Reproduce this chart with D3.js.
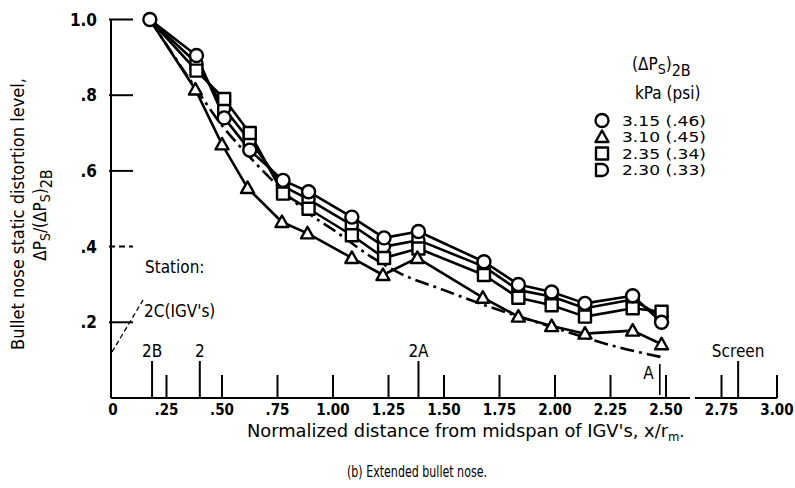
<!DOCTYPE html>
<html>
<head>
<meta charset="utf-8">
<script src="https://cdn.jsdelivr.net/npm/d3@7"></script>
<style>
  body { margin: 0; background: #fff; }
  svg text { font-family: "DejaVu Sans Condensed", "DejaVu Sans", sans-serif; font-stretch: condensed; fill: #000; }
</style>
</head>
<body>
<div id="chart_wrapper"></div>
<script>
// station positions along x/r_m
var xPts = [0.175, 0.385, 0.51, 0.625, 0.775, 0.89, 1.085, 1.23, 1.385, 1.68, 1.835, 1.985, 2.135, 2.35, 2.48];
var xTri = [0.175, 0.38, 0.50, 0.615, 0.77, 0.885, 1.085, 1.225, 1.38, 1.675, 1.835, 1.985, 2.135, 2.35, 2.48];

var circleVals = [1.0, 0.905, 0.74, 0.655, 0.575, 0.545, 0.478, 0.423, 0.44, 0.36, 0.30, 0.28, 0.25, 0.27, 0.20];
var triVals    = [1.0, 0.815, 0.67, 0.555, 0.465, 0.435, 0.37, 0.325, 0.37, 0.265, 0.215, 0.19, 0.17, 0.178, 0.142];
var squareVals = [1.0, 0.865, 0.79, 0.70, 0.54, 0.50, 0.43, 0.37, 0.395, 0.325, 0.265, 0.245, 0.215, 0.237, 0.228];
var dVals      = [1.0, 0.885, 0.765, 0.68, 0.56, 0.525, 0.457, 0.40, 0.417, 0.347, 0.285, 0.268, 0.237, 0.26, 0.215];

// dash-dot reference curve
var refX = [0.175, 0.38, 0.5, 0.62, 0.77, 0.885, 1.0, 1.18, 1.3, 1.5, 1.68, 1.84, 2.0, 2.28, 2.48];
var refY = [1.0, 0.82, 0.72, 0.64, 0.55, 0.49, 0.445, 0.37, 0.33, 0.285, 0.246, 0.215, 0.185, 0.135, 0.108];

var legendLabels = ["3.15 (.46)", "3.10 (.45)", "2.35 (.34)", "2.30 (.33)"];
var xTicks = [0.25, 0.5, 0.75, 1.0, 1.25, 1.5, 1.75, 2.0, 2.25, 2.5, 2.75, 3.0];
var xTickLabels = ["0", ".25", ".50", ".75", "1.00", "1.25", "1.50", "1.75", "2.00", "2.25", "2.50", "2.75", "3.00"];
var yTicks = [0.2, 0.4, 0.6, 0.8, 1.0];
var yTickLabels = [".2", ".4", ".6", ".8", "1.0"];

var stations = [
  {name: "2B", x: 0.185},
  {name: "2", x: 0.40},
  {name: "2A", x: 1.385},
  {name: "Screen", x: 2.825}
];

var wrapperWidth = 795, wrapperHeight = 488;
var svg = d3.select("#chart_wrapper").append("svg")
    .attr("width", wrapperWidth).attr("height", wrapperHeight);

var x = d3.scaleLinear().domain([0, 3]).range([111, 777]);
var y = d3.scaleLinear().domain([0, 1]).range([398, 19.5]);

var ink = "#000";

// axes
svg.append("line").attr("x1", x(0)).attr("x2", x(0)).attr("y1", y(1)).attr("y2", y(0))
    .attr("stroke", ink).attr("stroke-width", 2);
svg.append("line").attr("x1", x(0)).attr("x2", x(2.608)).attr("y1", y(0)).attr("y2", y(0))
    .attr("stroke", ink).attr("stroke-width", 2);
svg.append("line").attr("x1", x(2.63)).attr("x2", x(3.0)).attr("y1", y(0)).attr("y2", y(0))
    .attr("stroke", ink).attr("stroke-width", 2);

// y ticks (inward)
svg.selectAll(".ytick").data(yTicks).enter().append("line")
    .attr("x1", x(0) - 2).attr("x2", x(0) + 22)
    .attr("y1", function(d) { return y(d); }).attr("y2", function(d) { return y(d); })
    .attr("stroke", ink).attr("stroke-width", 2)
    .attr("stroke-dasharray", function(d) { return d == 0.4 ? "6,4" : null; });

svg.selectAll(".ylab").data(yTicks).enter().append("text")
    .attr("x", 97).attr("y", function(d) { return y(d) + 6; })
    .attr("text-anchor", "end").attr("font-size", 17).attr("font-weight", "bold")
    .text(function(d, i) { return yTickLabels[i]; });

// x ticks (inward)
svg.selectAll(".xtick").data(xTicks).enter().append("line")
    .attr("x1", function(d) { return x(d); }).attr("x2", function(d) { return x(d); })
    .attr("y1", y(0) - 23).attr("y2", y(0))
    .attr("stroke", ink).attr("stroke-width", 2);

svg.selectAll(".xlab").data([0].concat(xTicks)).enter().append("text")
    .attr("x", function(d) { return x(d) + (d == 0 ? 2 : 0); }).attr("y", 415)
    .attr("text-anchor", "middle").attr("font-size", 15).attr("font-weight", "bold")
    .text(function(d, i) { return xTickLabels[i]; });

// station markers
svg.selectAll(".st").data(stations).enter().append("line")
    .attr("x1", function(d) { return x(d.x); }).attr("x2", function(d) { return x(d.x); })
    .attr("y1", y(0) - 37).attr("y2", y(0))
    .attr("stroke", ink).attr("stroke-width", 2);
svg.selectAll(".stl").data(stations).enter().append("text")
    .attr("x", function(d) { return x(d.x); }).attr("y", 357)
    .attr("text-anchor", "middle").attr("font-size", 17)
    .text(function(d) { return d.name; });

// station A
svg.append("line").attr("x1", x(2.472)).attr("x2", x(2.472)).attr("y1", y(0) - 34).attr("y2", y(0) - 3)
    .attr("stroke", ink).attr("stroke-width", 1.6);
svg.append("text").attr("x", x(2.445)).attr("y", 379).attr("text-anchor", "end")
    .attr("font-size", 17).text("A");

svg.append("text").attr("x", 145).attr("y", 273).attr("font-size", 17).text("Station:");
svg.append("text").attr("x", 144).attr("y", 317).attr("font-size", 17).text("2C(IGV's)");
svg.append("line").attr("x1", 112).attr("y1", 352).attr("x2", 143).attr("y2", 300)
    .attr("stroke", ink).attr("stroke-width", 1.3).attr("stroke-dasharray", "5,3");

// reference dash-dot curve
var refLine = d3.line().x(function(d) { return x(d[0]); }).y(function(d) { return y(d[1]); })
    .curve(d3.curveMonotoneX);
svg.append("path").datum(d3.zip(refX, refY)).attr("d", refLine)
    .attr("fill", "none").attr("stroke", ink).attr("stroke-width", 2.6)
    .attr("stroke-dasharray", "14,5,3,5");

// series
var series = [
  {shape: "circle", xs: xPts, vals: circleVals},
  {shape: "triangle", xs: xTri, vals: triVals},
  {shape: "square", xs: xPts, vals: squareVals},
  {shape: "d", xs: xPts, vals: dVals}
];

var line = d3.line().x(function(d) { return x(d[0]); }).y(function(d) { return y(d[1]); });

series.forEach(function(s) {
  svg.append("path").datum(d3.zip(s.xs, s.vals)).attr("d", line)
      .attr("fill", "none").attr("stroke", ink).attr("stroke-width", 2.6)
      .attr("stroke-linejoin", "round");
});

function markerPath(shape) {
  if (shape == "triangle") return "M0,-6.5L6.5,5L-6.5,5Z";
  if (shape == "square") return "M-6,-6H6V6H-6Z";
  if (shape == "d") return "M-6,-6H0A6,6 0 0 1 0,6H-6Z";
  return null;
}

function drawMarker(g, shape, cx, cy) {
  if (shape == "circle") {
    g.append("circle").attr("cx", cx).attr("cy", cy).attr("r", 6.5)
        .attr("fill", "#fff").attr("stroke", ink).attr("stroke-width", 2.4);
  } else {
    g.append("path").attr("d", markerPath(shape))
        .attr("transform", "translate(" + cx + "," + cy + ")")
        .attr("fill", "#fff").attr("stroke", ink).attr("stroke-width", 2.4)
        .attr("stroke-linejoin", "round");
  }
}

var marks = svg.append("g");
// draw later series first so circle sits on top
[3, 2, 1, 0].forEach(function(k) {
  var s = series[k];
  s.xs.forEach(function(xv, i) {
    if (i == 0 && k != 0) return;
    drawMarker(marks, s.shape, x(xv), y(s.vals[i]));
  });
});

// legend
var lg = svg.append("g");
var title = lg.append("text").attr("x", 632).attr("y", 70).attr("font-size", 17);
title.append("tspan").text("(\u0394P");
title.append("tspan").attr("baseline-shift", "-25%").attr("font-size", 14).text("S");
title.append("tspan").text(")");
title.append("tspan").attr("baseline-shift", "-35%").attr("font-size", 16).text("2B");
lg.append("text").attr("x", 635).attr("y", 99).attr("font-size", 17).text("kPa (psi)");

series.forEach(function(s, i) {
  var cy = 120.5 + i * 16.5;
  drawMarker(lg, s.shape, 602, cy);
  lg.append("text").attr("x", 622).attr("y", cy + 5).attr("font-size", 14)
      .attr("textLength", 84).attr("lengthAdjust", "spacingAndGlyphs").text(legendLabels[i]);
});

// axis titles
var xt = svg.append("text").attr("x", 247).attr("y", 437).attr("font-size", 17);
xt.append("tspan").attr("textLength", 421).attr("lengthAdjust", "spacingAndGlyphs")
    .text("Normalized distance from midspan of IGV's, x/r");
xt.append("tspan").attr("baseline-shift", "-30%").attr("font-size", 13).text("m");
xt.append("tspan").text(".");

svg.append("text").attr("x", 347).attr("y", 477)
    .attr("font-size", 15).attr("textLength", 140).attr("lengthAdjust", "spacingAndGlyphs")
    .text("(b) Extended bullet nose.");

var yt1 = svg.append("text").attr("transform", "translate(24,350) rotate(-90)")
    .attr("font-size", 18).attr("textLength", 272).attr("lengthAdjust", "spacingAndGlyphs")
    .text("Bullet nose static distortion level,");
var yt2 = svg.append("text").attr("transform", "translate(46,215) rotate(-90)")
    .attr("text-anchor", "middle").attr("font-size", 17);
yt2.append("tspan").text("\u0394P");
yt2.append("tspan").attr("baseline-shift", "-25%").attr("font-size", 14).text("S");
yt2.append("tspan").text("/(\u0394P");
yt2.append("tspan").attr("baseline-shift", "-25%").attr("font-size", 14).text("S");
yt2.append("tspan").text(")");
yt2.append("tspan").attr("baseline-shift", "-35%").attr("font-size", 16).text("2B");
</script>
</body>
</html>
